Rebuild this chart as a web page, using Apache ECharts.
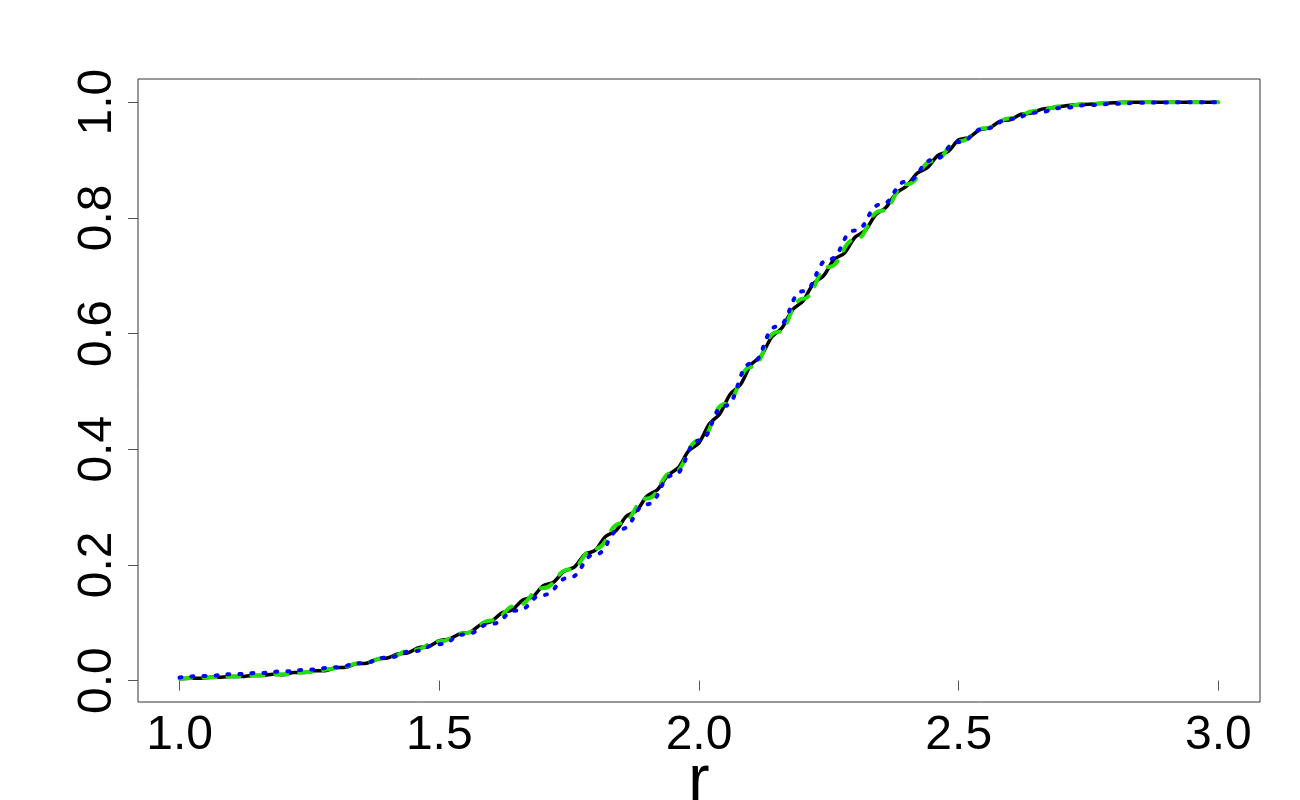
<!DOCTYPE html>
<html>
<head>
<meta charset="utf-8">
<script src="https://cdn.jsdelivr.net/npm/echarts@6/dist/echarts.min.js"></script>
<style>
  html, body { margin: 0; padding: 0; background: #fff; }
  #chart { width: 1300px; height: 800px; }
</style>
</head>
<body>
<div id="chart"></div>
<script>
// x sampling points
var rCoarse = [1.00, 1.05, 1.10, 1.15, 1.20, 1.25, 1.30, 1.35, 1.40, 1.45,
  1.50, 1.55, 1.60, 1.65, 1.70, 1.75, 1.80, 1.85, 1.90, 1.95,
  2.00, 2.05, 2.10, 2.15, 2.20, 2.25, 2.30, 2.35, 2.40, 2.45,
  2.50, 2.55, 2.60, 2.65, 2.70, 2.75, 2.80, 2.85, 2.90, 2.95, 3.00];
var rFine = [1.00, 1.02, 1.04, 1.06, 1.08, 1.10, 1.12, 1.14, 1.16, 1.18,
  1.20, 1.22, 1.24, 1.26, 1.28, 1.30, 1.32, 1.34, 1.36, 1.38,
  1.40, 1.42, 1.44, 1.46, 1.48, 1.50, 1.52, 1.54, 1.56, 1.58,
  1.60, 1.62, 1.64, 1.66, 1.68, 1.70, 1.72, 1.74, 1.76, 1.78,
  1.80, 1.82, 1.84, 1.86, 1.88, 1.90, 1.92, 1.94, 1.96, 1.98,
  2.00, 2.02, 2.04, 2.06, 2.08, 2.10, 2.12, 2.14, 2.16, 2.18,
  2.20, 2.22, 2.24, 2.26, 2.28, 2.30, 2.32, 2.34, 2.36, 2.38,
  2.40, 2.42, 2.44, 2.46, 2.48, 2.50, 2.52, 2.54, 2.56, 2.58,
  2.60, 2.62, 2.64, 2.66, 2.68, 2.70, 2.72, 2.74, 2.76, 2.78,
  2.80, 2.82, 2.84, 2.86, 2.88, 2.90, 2.92, 2.94, 2.96, 2.98, 3.00];

// black solid (empirical, wiggly)
var empirical = [0.003, 0.004, 0.004, 0.006, 0.006, 0.007, 0.007, 0.009, 0.009, 0.011,
  0.010, 0.014, 0.014, 0.017, 0.017, 0.022, 0.023, 0.029, 0.030, 0.037,
  0.039, 0.046, 0.048, 0.057, 0.059, 0.069, 0.072, 0.081, 0.084, 0.097,
  0.102, 0.117, 0.122, 0.139, 0.145, 0.164, 0.170, 0.189, 0.196, 0.218,
  0.225, 0.249, 0.259, 0.284, 0.294, 0.319, 0.330, 0.355, 0.368, 0.397,
  0.411, 0.444, 0.461, 0.495, 0.512, 0.546, 0.562, 0.594, 0.610, 0.641,
  0.656, 0.686, 0.700, 0.728, 0.739, 0.766, 0.778, 0.805, 0.818, 0.843,
  0.855, 0.877, 0.887, 0.908, 0.915, 0.935, 0.939, 0.952, 0.956, 0.967,
  0.970, 0.979, 0.981, 0.988, 0.990, 0.993, 0.995, 0.996, 0.997, 0.998,
  0.999, 1.000, 1.000, 1.000, 1.000, 1.000, 1.000, 1.000, 1.000, 1.000, 1.000];

// green dashed
var fitGreen = [0.003, 0.005, 0.007, 0.009, 0.011, 0.015, 0.021, 0.030, 0.040, 0.053,
  0.068, 0.082, 0.104, 0.130, 0.160, 0.192, 0.228, 0.272, 0.315, 0.360,
  0.415, 0.478, 0.542, 0.602, 0.660, 0.715, 0.762, 0.812, 0.858, 0.898,
  0.932, 0.955, 0.972, 0.985, 0.993, 0.997, 0.999, 1.000, 1.000, 1.000, 1.000];

// blue dotted
var fitBlue = [0.0055, 0.008, 0.011, 0.013, 0.016, 0.019, 0.023, 0.030, 0.040, 0.051,
  0.063, 0.080, 0.098, 0.121, 0.148, 0.178, 0.218, 0.262, 0.305, 0.355,
  0.415, 0.475, 0.548, 0.612, 0.673, 0.728, 0.778, 0.823, 0.863, 0.900,
  0.931, 0.954, 0.971, 0.982, 0.990, 0.995, 0.997, 0.999, 0.9995, 1.000, 1.000];

var xTicks = [1.0, 1.5, 2.0, 2.5, 3.0];
var yTicks = [0.0, 0.2, 0.4, 0.6, 0.8, 1.0];

function pairs(xs, ys) {
  return xs.map(function (x, i) { return [x, ys[i]]; });
}

var font = 'Liberation Sans, Arial, Helvetica, sans-serif';
var myChart = echarts.init(document.getElementById('chart'));

var chartOption = {
  animation: false,
  backgroundColor: '#fff',
  grid: {
    left: 138,
    right: 40,
    top: 79,
    bottom: 98,
    containLabel: false,
    outerBoundsMode: 'none',
    show: true,
    borderColor: '#333',
    borderWidth: 1,
    backgroundColor: 'transparent'
  },
  xAxis: {
    type: 'value',
    min: 0.92,
    max: 3.08,
    name: 'r',
    nameLocation: 'middle',
    nameGap: 48,
    nameMoveOverlap: false,
    nameTextStyle: { fontSize: 64, fontWeight: 'normal', color: '#000', fontFamily: font },
    axisLine: { show: false },
    splitLine: { show: false },
    axisTick: {
      show: true,
      length: 10,
      customValues: xTicks,
      lineStyle: { color: '#555', width: 1 }
    },
    axisLabel: {
      customValues: xTicks,
      margin: 10,
      fontSize: 48,
      color: '#000',
      fontFamily: font,
      formatter: function (v) { return v.toFixed(1); }
    }
  },
  yAxis: {
    type: 'value',
    min: -0.037,
    max: 1.04,
    axisLine: { show: false },
    splitLine: { show: false },
    axisTick: {
      show: true,
      length: 10,
      customValues: yTicks,
      lineStyle: { color: '#555', width: 1 }
    },
    axisLabel: {
      customValues: yTicks,
      rotate: 90,
      margin: 16,
      fontSize: 48,
      color: '#000',
      fontFamily: font,
      formatter: function (v) { return v.toFixed(1); }
    }
  },
  series: [
    {
      name: 'empirical',
      type: 'line',
      data: pairs(rFine, empirical),
      showSymbol: false,
      smooth: 0.3,
      lineStyle: { color: '#000', width: 3.5 },
      z: 2
    },
    {
      name: 'green',
      type: 'line',
      data: pairs(rCoarse, fitGreen),
      showSymbol: false,
      smooth: true,
      smoothMonotone: 'x',
      lineStyle: { color: '#22e000', width: 4, type: [12, 12], cap: 'round' },
      z: 3
    },
    {
      name: 'blue',
      type: 'line',
      data: pairs(rCoarse, fitBlue),
      showSymbol: false,
      smooth: true,
      smoothMonotone: 'x',
      lineStyle: { color: '#0000ff', width: 4, type: [2, 10], cap: 'round' },
      z: 4
    }
  ]
};
myChart.setOption(chartOption);
</script>
</body>
</html>
